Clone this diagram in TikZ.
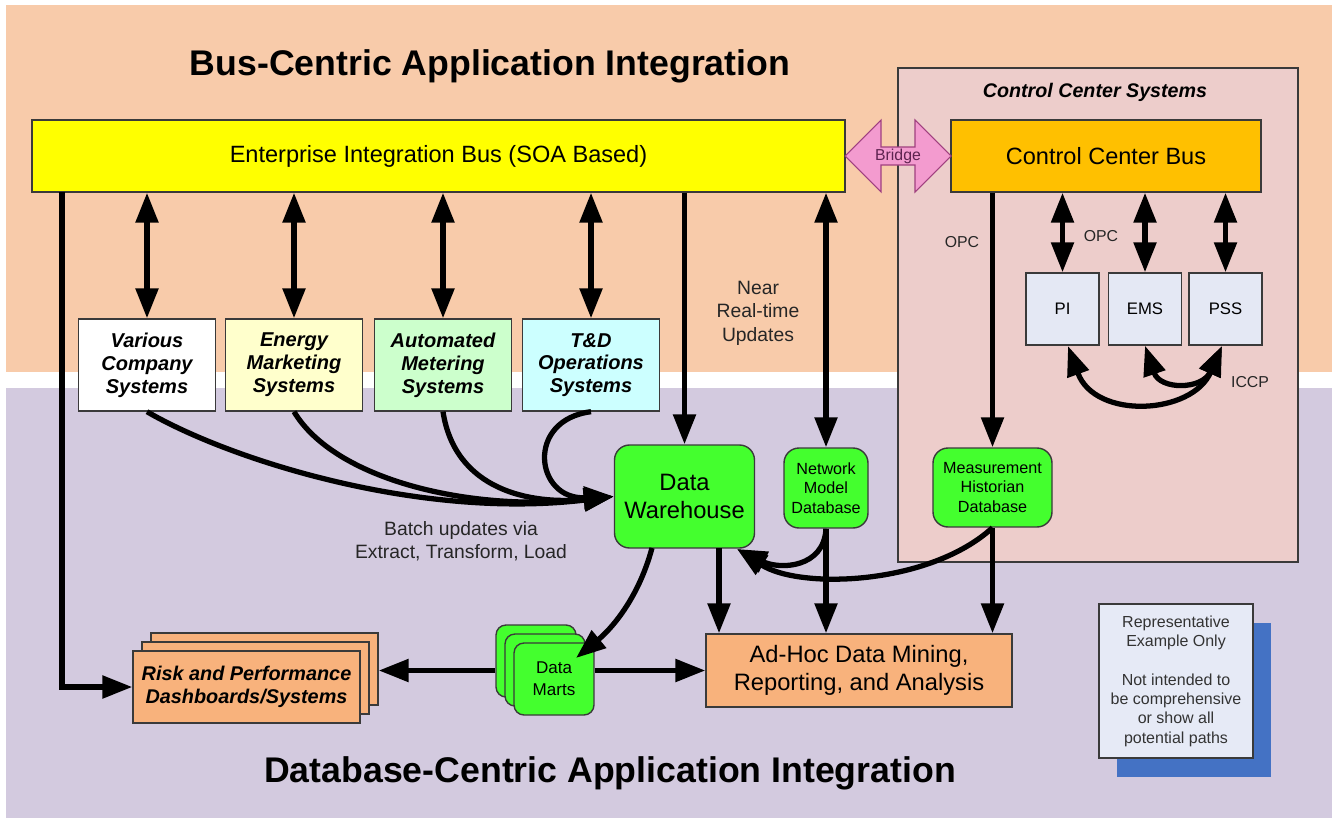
\documentclass[tikz,border=0pt]{standalone}
\usepackage{fontspec}
\setmainfont{Liberation Sans}
\usetikzlibrary{arrows.meta,shadows}
\definecolor{bgpeach}{HTML}{F8CBAA}
\definecolor{bglav}{HTML}{D3CADF}
\definecolor{ccpanel}{HTML}{EDCDCB}
\definecolor{eibyellow}{HTML}{FFFF00}
\definecolor{ccorange}{HTML}{FFC000}
\definecolor{dbgreen}{HTML}{44FF2E}
\definecolor{adhocorange}{HTML}{F8B27C}
\definecolor{ccsys}{HTML}{E4E8F4}
\definecolor{repfill}{HTML}{E6EAF6}
\definecolor{repshadow}{HTML}{4472C4}
\definecolor{bridgepink}{HTML}{F39BCF}
\definecolor{bridgeedge}{HTML}{A0407F}
\definecolor{bridgetext}{HTML}{5E2350}
\definecolor{sysyellow}{HTML}{FFFFCC}
\definecolor{sysgreen}{HTML}{CCFFCC}
\definecolor{syscyan}{HTML}{CCFFFF}
\definecolor{lineedge}{HTML}{3A3A3A}
\tikzset{
  flow/.style={line width=3pt, -{Triangle[length=17pt,width=12.5pt]}},
  dflow/.style={line width=3pt, {Triangle[length=17pt,width=12.5pt]}-{Triangle[length=17pt,width=12.5pt]}},
  heading/.style={font=\fontsize{20.3}{24}\selectfont\bfseries},
  busbox/.style={draw=lineedge, line width=0.8pt, minimum height=1.44cm,
                 font=\fontsize{13.4}{16}\selectfont},
  sysbox/.style={draw=lineedge, line width=0.8pt, minimum width=2.74cm, minimum height=1.84cm,
                 align=center, font=\fontsize{11.4}{13}\selectfont\bfseries\itshape},
  dbbox/.style={draw=lineedge, line width=0.8pt, fill=dbgreen, rounded corners=0.3cm, align=center},
  martbox/.style={draw=lineedge, line width=0.8pt, fill=dbgreen, rounded corners=0.2cm,
                  minimum width=1.6cm, minimum height=1.44cm},
  dashbox/.style={draw=lineedge, line width=0.8pt, fill=adhocorange, minimum width=4.54cm,
                  minimum height=1.44cm},
  ccsysbox/.style={draw=lineedge, line width=0.8pt, fill=ccsys, minimum width=1.46cm,
                   minimum height=1.44cm, font=\fontsize{9.5}{11}\selectfont},
  notetext/.style={font=\fontsize{11}{13.3}\selectfont, align=center, text=black!85},
  smalltext/.style={font=\fontsize{9}{11}\selectfont, text=black!85},
}
\begin{document}
\begin{tikzpicture}[x=0.02cm, y=-0.02cm]
  \useasboundingbox (0,0) rectangle (1332,818);
  \fill[white] (0,0) rectangle (1332,818);
  \fill[bgpeach] (6,5) rectangle (1332,372);
  \fill[bglav] (6,388) rectangle (1332,818);

  \node[heading] (busTitle) at (490,66) {Bus-Centric Application Integration};
  \node[heading] (dbTitle) at (610,773) {Database-Centric Application Integration};

  \node[draw=lineedge, line width=1pt, fill=ccpanel, minimum width=8cm, minimum height=9.88cm] (ccPanel) at (1098,315) {};
  \node[font=\fontsize{11.2}{13}\selectfont\bfseries\itshape] (ccTitle) at (1095,92) {Control Center Systems};

  \node[busbox, fill=eibyellow, minimum width=16.26cm] (eib) at (438.5,156) {Enterprise Integration Bus (SOA Based)};
  \node[busbox, fill=ccorange, minimum width=6.2cm] (ccbus) at (1106,156) {Control Center Bus};
  \draw[bridgeedge, fill=bridgepink, line width=0.6pt] (845,156) -- (881,120) -- (881,147) -- (915,147) -- (915,120)
    -- (951,156) -- (915,192) -- (915,165) -- (881,165) -- (881,192) -- cycle;
  \node[font=\fontsize{9}{10}\selectfont, text=bridgetext] (bridgeLbl) at (898,156) {Bridge};

  \node[sysbox, fill=white] (sysVar) at (147,365) {Various\\Company\\Systems};
  \node[sysbox, fill=sysyellow] (sysEnergy) at (294,365) {Energy\\Marketing\\Systems};
  \node[sysbox, fill=sysgreen] (sysAmi) at (443,365) {Automated\\Metering\\Systems};
  \node[sysbox, fill=syscyan] (sysTd) at (591,365) {T\&D\\Operations\\Systems};

  \node[ccsysbox] (pi) at (1062.5,309) {PI};
  \node[ccsysbox] (ems) at (1145,309) {EMS};
  \node[ccsysbox] (pss) at (1225.5,309) {PSS};

  \node[dbbox, minimum width=2.8cm, minimum height=2.06cm, font=\fontsize{13.5}{16}\selectfont] (dw) at (684.5,496.5) {Data\\Warehouse};
  \node[dbbox, minimum width=1.68cm, minimum height=1.6cm, font=\fontsize{9.2}{11}\selectfont] (nmd) at (826,488) {Network\\Model\\Database};
  \node[dbbox, minimum width=2.38cm, minimum height=1.58cm, font=\fontsize{9.2}{11}\selectfont] (mhd) at (992.5,487.5) {Measurement\\Historian\\Database};

  \node[draw=lineedge, line width=0.8pt, fill=adhocorange, minimum width=6.12cm, minimum height=1.46cm,
        align=center, font=\fontsize{13.5}{16}\selectfont] (adhoc) at (859,670.5) {Ad-Hoc Data Mining,\\Reporting, and Analysis};

  \node[martbox] (martsC) at (536,661) {};
  \node[martbox] (martsB) at (545,670) {};
  \node[martbox, align=center, font=\fontsize{9.7}{12.5}\selectfont] (marts) at (554,679) {Data\\Marts};

  \node[dashbox] (dashC) at (264.5,669) {};
  \node[dashbox] (dashB) at (255.5,678) {};
  \node[dashbox, align=center, font=\fontsize{11.3}{13}\selectfont\bfseries\itshape] (dash) at (246.5,687) {Risk and Performance\\Dashboards/Systems};

  \node[draw=lineedge, line width=0.8pt, fill=repfill, minimum width=3.08cm, minimum height=3.08cm,
        drop shadow={shadow xshift=0.36cm, shadow yshift=-0.38cm, fill=repshadow, opacity=1},
        align=center, font=\fontsize{9.1}{11}\selectfont, text=black!80] (rep) at (1176,681)
        {Representative\\Example Only\\[11pt]Not intended to\\be comprehensive\\or show all\\potential paths};

  \node[notetext] (nearRt) at (758,313) {Near\\Real-time\\Updates};
  \node[notetext] (batchLbl) at (461,541) {Batch updates via\\Extract, Transform, Load};
  \node[smalltext] (opcA) at (962,242) {OPC};
  \node[smalltext] (opcB) at (1101,236) {OPC};
  \node[smalltext] (iccp) at (1250,382) {ICCP};

  \coordinate (eibLeft) at (62,192);
  \coordinate (dwOut) at (719,548);
  \coordinate (dwOutL) at (652,548);
  \coordinate (dwIn) at (737,549);
  \coordinate (martsIn) at (576,658);
  \coordinate (piOut) at (1068,346);
  \coordinate (pssIn) at (1222,346);

  \foreach \s in {sysVar,sysEnergy,sysAmi,sysTd}
    \draw[dflow] (\s.north |- eib.south) -- (\s.north);
  \foreach \s in {pi,ems,pss}
    \draw[dflow] (\s.north |- ccbus.south) -- (\s.north);
  \draw[flow] (eibLeft) |- (dash.west);
  \draw[flow] (dw.north |- eib.south) -- (dw.north);
  \draw[dflow] (nmd.north |- eib.south) -- (nmd.north);
  \draw[flow] (mhd.north |- ccbus.south) -- (mhd.north);

  \draw[flow] (sysVar.south) .. controls (230,460) and (420,520) .. (dw.west);
  \draw[flow] (sysEnergy.south) .. controls (335,480) and (470,512) .. (dw.west);
  \draw[flow] (sysAmi.south) .. controls (455,490) and (530,505) .. (dw.west);
  \draw[flow] (sysTd.south) .. controls (525,420) and (535,500) .. (dw.west);

  \draw[flow] (dwOut) -- (dwOut |- adhoc.north);
  \draw[flow] (nmd.south) -- (nmd.south |- adhoc.north);
  \draw[flow] (mhd.south) -- (mhd.south |- adhoc.north);
  \draw[flow] (nmd.south) .. controls (824,568) and (780,570) .. (dwIn);
  \draw[flow] (mhd.south) .. controls (930,585) and (800,590) .. (dwIn);
  \draw[flow] (dwOutL) .. controls (638,600) and (610,630) .. (martsIn);
  \draw[flow] (marts.east |- adhoc.west) -- (adhoc.west);
  \draw[flow] (martsC.west |- adhoc.west) -- (dashC.east |- adhoc.west);

  \draw[dflow] (piOut) .. controls (1095,420) and (1192,415) .. (pssIn);
  \draw[dflow] (ems.south) .. controls (1160,390) and (1202,390) .. (pssIn);
\end{tikzpicture}
\end{document}
